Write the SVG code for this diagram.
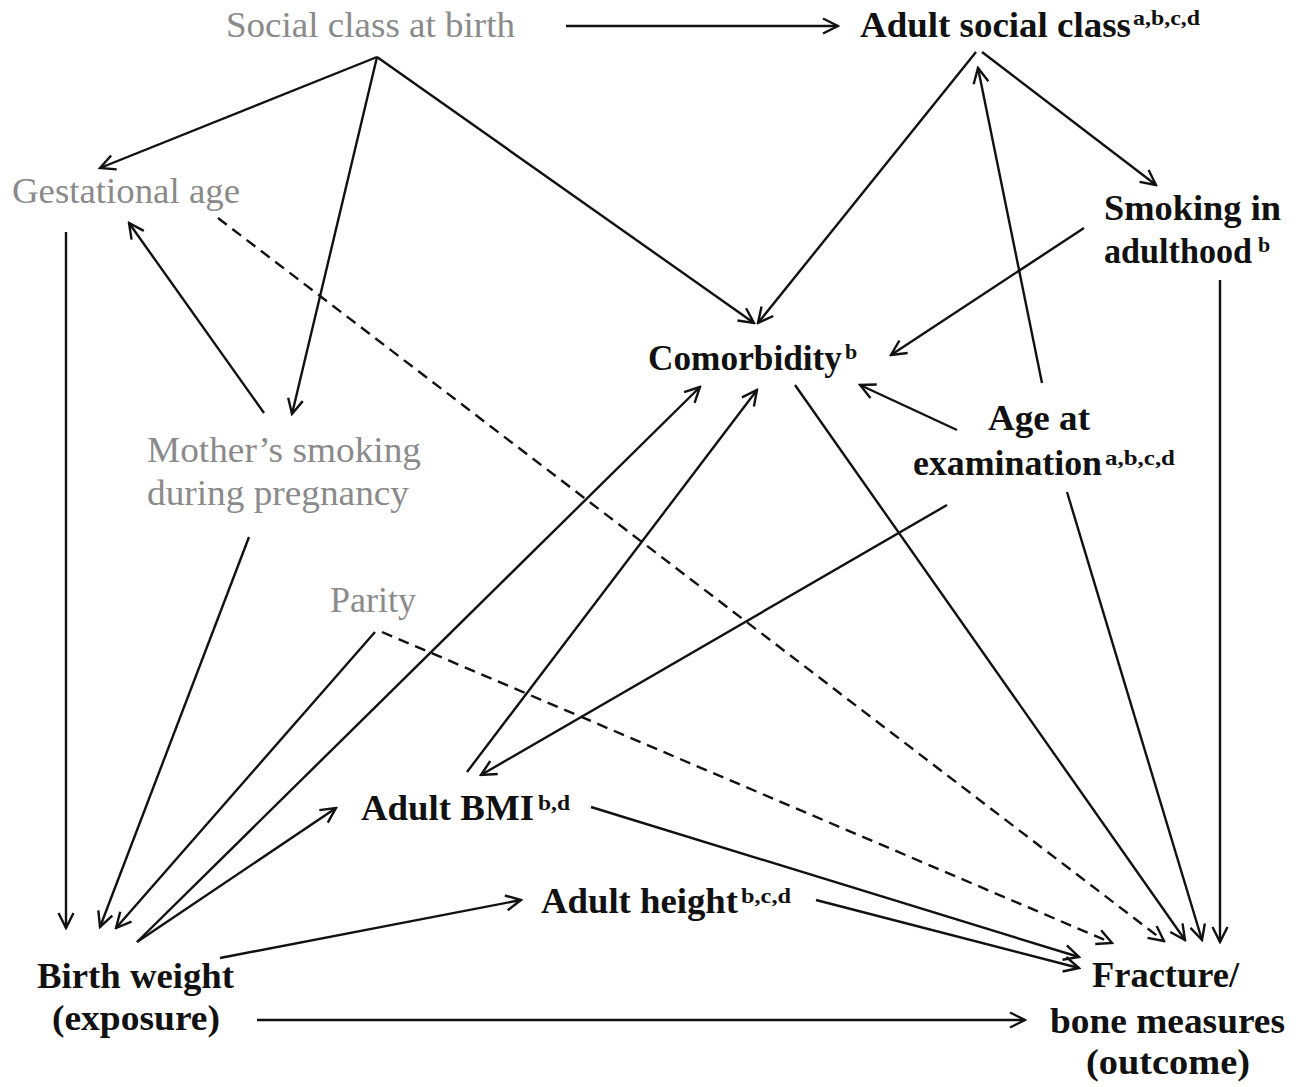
<svg xmlns="http://www.w3.org/2000/svg" width="1298" height="1087" viewBox="0 0 1298 1087">
<style>
.g{font-family:"Liberation Serif","Times New Roman",serif;font-size:36px;fill:#8a8a8a}
.b{font-family:"Liberation Serif","Times New Roman",serif;font-size:36px;font-weight:bold;fill:#111}
.s{font-family:"Liberation Serif","Times New Roman",serif;font-size:22px;font-weight:bold;fill:#111}
.e{stroke:#111;stroke-width:2.4;fill:none;marker-end:url(#ah)}
.d{stroke-dasharray:11 7}
</style>
<defs>
<marker id="ah" viewBox="0 0 18 18" refX="16" refY="9" markerWidth="18" markerHeight="18" markerUnits="userSpaceOnUse" orient="auto">
<path d="M1,1.5 L16,9 L1,16.5" fill="none" stroke="#111" stroke-width="2.4"/>
</marker>
</defs>
<rect width="1298" height="1087" fill="#fff"/>
<g id="connectors">
<line class="e" x1="566" y1="26" x2="838" y2="26"/>
<line class="e" x1="377" y1="57" x2="100" y2="168"/>
<line class="e" x1="377" y1="57" x2="292" y2="414"/>
<line class="e" x1="377" y1="57" x2="754" y2="323"/>
<line class="e" x1="264" y1="413" x2="129" y2="223"/>
<line class="e" x1="66" y1="232" x2="66" y2="928"/>
<line class="e d" x1="218" y1="218" x2="1164" y2="941"/>
<line class="e d" x1="382" y1="632" x2="1112" y2="943"/>
<line class="e" x1="375" y1="632" x2="116" y2="928"/>
<line class="e" x1="249" y1="537" x2="100" y2="927"/>
<line class="e" x1="137" y1="942" x2="336" y2="808"/>
<line class="e" x1="137" y1="942" x2="700" y2="387"/>
<line class="e" x1="220" y1="958" x2="521" y2="900"/>
<line class="e" x1="467" y1="772" x2="757" y2="390"/>
<line class="e" x1="947" y1="505" x2="481" y2="775"/>
<line class="e" x1="957" y1="430" x2="860" y2="385"/>
<line class="e" x1="1042" y1="383" x2="978" y2="68"/>
<line class="e" x1="1067" y1="492" x2="1202" y2="940"/>
<line class="e" x1="795" y1="385" x2="1185" y2="940"/>
<line class="e" x1="1220" y1="280" x2="1220" y2="942"/>
<line class="e" x1="976" y1="52" x2="758" y2="323"/>
<line class="e" x1="982" y1="52" x2="1156" y2="185"/>
<line class="e" x1="1084" y1="228" x2="891" y2="355"/>
<line class="e" x1="591" y1="807" x2="1079" y2="957"/>
<line class="e" x1="816" y1="900" x2="1079" y2="968"/>
<line class="e" x1="257" y1="1020" x2="1025" y2="1020"/>
</g>
<g id="social-class-birth"><text class="g" x="226" y="37" textLength="289" lengthAdjust="spacingAndGlyphs">Social class at birth</text></g>
<g id="gestational-age"><text class="g" x="12" y="203" textLength="228" lengthAdjust="spacingAndGlyphs">Gestational age</text></g>
<g id="mothers-smoking">
<text class="g" x="147" y="462" textLength="274" lengthAdjust="spacingAndGlyphs">Mother’s smoking</text>
<text class="g" x="147" y="505" textLength="262" lengthAdjust="spacingAndGlyphs">during pregnancy</text>
</g>
<g id="parity"><text class="g" x="330" y="612" textLength="86" lengthAdjust="spacingAndGlyphs">Parity</text></g>
<g id="adult-social-class">
<text class="b" x="860" y="37" textLength="271" lengthAdjust="spacingAndGlyphs">Adult social class</text>
<text class="s" x="1133" y="25" textLength="67" lengthAdjust="spacingAndGlyphs">a,b,c,d</text>
</g>
<g id="smoking-adulthood">
<text class="b" x="1104" y="220" textLength="177" lengthAdjust="spacingAndGlyphs">Smoking in</text>
<text class="b" x="1104" y="263" textLength="148" lengthAdjust="spacingAndGlyphs">adulthood</text>
<text class="s" x="1258" y="252">b</text>
</g>
<g id="comorbidity">
<text class="b" x="648" y="370" textLength="194" lengthAdjust="spacingAndGlyphs">Comorbidity</text>
<text class="s" x="845" y="359">b</text>
</g>
<g id="age-exam">
<text class="b" x="988" y="430" textLength="102" lengthAdjust="spacingAndGlyphs">Age at</text>
<text class="b" x="913" y="475" textLength="189" lengthAdjust="spacingAndGlyphs">examination</text>
<text class="s" x="1105" y="465" textLength="70" lengthAdjust="spacingAndGlyphs">a,b,c,d</text>
</g>
<g id="adult-bmi">
<text class="b" x="361" y="820" textLength="173" lengthAdjust="spacingAndGlyphs">Adult BMI</text>
<text class="s" x="538" y="810" textLength="32" lengthAdjust="spacingAndGlyphs">b,d</text>
</g>
<g id="adult-height">
<text class="b" x="541" y="913" textLength="197" lengthAdjust="spacingAndGlyphs">Adult height</text>
<text class="s" x="741" y="903" textLength="50" lengthAdjust="spacingAndGlyphs">b,c,d</text>
</g>
<g id="birth-weight">
<text class="b" x="37" y="988" textLength="197" lengthAdjust="spacingAndGlyphs">Birth weight</text>
<text class="b" x="52" y="1030" textLength="168" lengthAdjust="spacingAndGlyphs">(exposure)</text>
</g>
<g id="fracture">
<text class="b" x="1092" y="987" textLength="147" lengthAdjust="spacingAndGlyphs">Fracture/</text>
<text class="b" x="1050" y="1033" textLength="235" lengthAdjust="spacingAndGlyphs">bone measures</text>
<text class="b" x="1086" y="1074" textLength="164" lengthAdjust="spacingAndGlyphs">(outcome)</text>
</g>
</svg>
